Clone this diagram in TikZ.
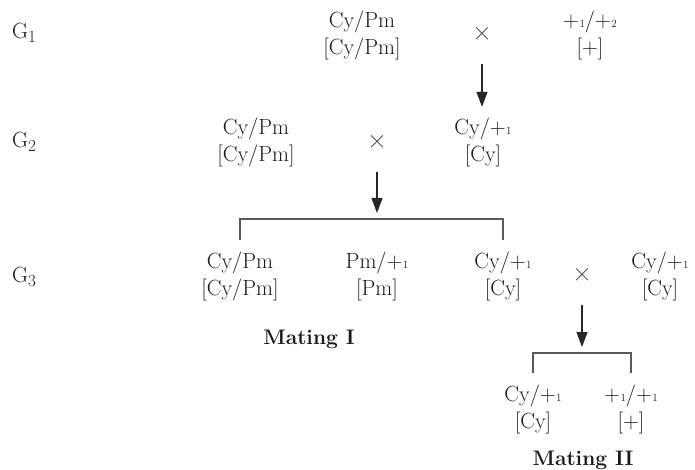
\documentclass[tikz,border=0pt]{standalone}
\usepackage{amsmath}
\usepackage{xcolor}
\usepackage{tikz}
\usetikzlibrary{arrows.meta,positioning,calc}
\newcommand{\wtp}[1]{+\kern0.5pt{\fontsize{11}{11}\selectfont #1}}
\newcommand{\gen}[1]{G\raisebox{-4pt}{\fontsize{17}{17}\selectfont #1}}
\tikzset{
  gx/.style={x=1pt, y=1pt, font=\fontsize{22}{27}\selectfont},
  g gen/.style={anchor=base west, inner sep=0pt, text=black!90},
  g pair/.style={align=center, inner sep=0pt, text=black!90},
  g cross/.style={inner sep=0pt, text=black!75, font=\fontsize{27}{27}\selectfont},
  g title/.style={font=\fontsize{21}{25}\selectfont\bfseries, inner sep=0pt, text=black!90},
  g arr/.style={-{Triangle[length=15pt, width=11pt]}, line width=1.2pt, black!85},
  g brk/.style={line width=1.1pt, black!65},
}

\begin{document}
\begin{tikzpicture}[gx]
\useasboundingbox (0,0) rectangle (695,-470);
\node[g gen] (g1) at (12,-39) {\gen1};
\node[g gen] (g2) at (12,-148) {\gen2};
\node[g gen] (g3) at (12,-282) {\gen3};
\node[g pair] (p1) at (362,-36) {Cy/Pm\\{}[Cy/Pm]};
\node[g cross] (x1) at (482,-34) {×};
\node[g pair] (p2) at (590,-36) {\wtp1/\wtp2\\{}[+]};
\node[g pair] (q1) at (256,-143) {Cy/Pm\\{}[Cy/Pm]};
\node[g cross] (x2) at (377,-142) {×};
\node[g pair] (q2) at (483,-143) {Cy/\wtp1\\{}[Cy]};
\node[g pair] (r1) at (240,-276) {Cy/Pm\\{}[Cy/Pm]};
\node[g pair] (r2) at (377,-276) {Pm/\wtp1\\{}[Pm]};
\node[g pair] (r3) at (503,-276) {Cy/\wtp1\\{}[Cy]};
\node[g cross] (x3) at (582,-275) {×};
\node[g pair] (r4) at (660,-276) {Cy/\wtp1\\{}[Cy]};
\node[g pair] (s1) at (533,-409.5) {Cy/\wtp1\\{}[Cy]};
\node[g pair] (s2) at (631,-409.5) {\wtp1/\wtp1\\{}[+]};
\node[g title] (t1) at (309,-339) {Mating I};
\node[g title] (t2) at (583,-460) {Mating II};
\coordinate (k1) at (377,-219);
\coordinate (k2) at (582,-353);
\draw[g arr, shorten <=23pt, shorten >=11.5pt] (x1.south) -- (x1.south |- q2.north);
\draw[g arr, shorten <=23pt, shorten >=6pt] (x2.south) -- (k1);
\draw[g arr, shorten <=23pt, shorten >=6pt] (x3.south) -- (k2);
\draw[g brk] ([yshift=11.5pt]r1.north) |- (k1) -| ([yshift=11.5pt]r3.north);
\draw[g brk] ([yshift=11.5pt]s1.north) |- (k2) -| ([yshift=11.5pt]s2.north);
\end{tikzpicture}
\end{document}
